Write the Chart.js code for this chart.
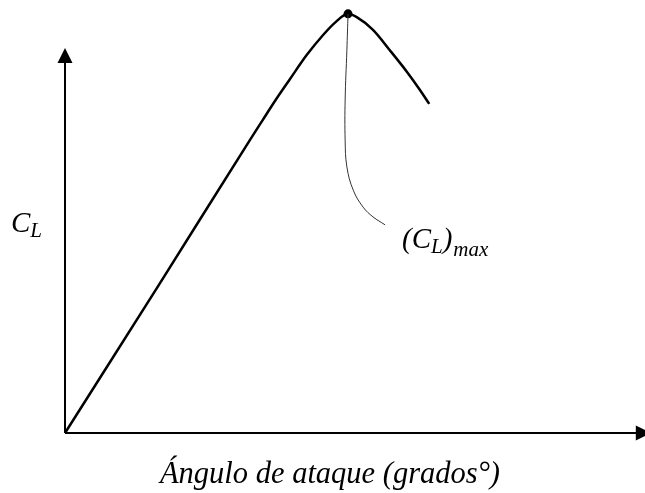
<!DOCTYPE html>
<html>
<head>
<meta charset="utf-8">
<script src="https://cdn.jsdelivr.net/npm/chart.js@4"></script>
<style>
  body { margin: 0; background: #fff; }
</style>
</head>
<body>
<canvas id="myChart" width="645" height="493"></canvas>
<script>
// curva de sustentacion (unidades arbitrarias 0-100)
const alpha = [0, 16, 31.9, 34.0, 36.2, 38.8, 41.7, 44.5, 46.7, 48.8, 50.3, 53.1, 56.0, 59.0, 61.2, 62.8];
const cl = [0, 34.6, 69.3, 73.8, 78.5, 83.7, 89.4, 94.1, 97.2, 99.1, 98.3, 95.3, 90.5, 85.3, 81.1, 77.8];

// linea guia hacia la etiqueta (CL)max
const guideX = [48.8, 48.6, 48.3, 48.3, 48.6, 49.7, 51.4, 53.1, 55.2];
const guideY = [99.1, 90.5, 78.7, 69.3, 62.9, 57.4, 53.4, 51.1, 49.2];

const peakIndex = 9;
const xAxisEnd = 101;
const yAxisEnd = 91;

const curve = alpha.map((a, i) => ({ x: a, y: cl[i] }));
const guide = guideX.map((g, i) => ({ x: g, y: guideY[i] }));

const serif = '"Liberation Serif", "Times New Roman", serif';

const axesPlugin = {
    id: 'axesPlugin',
    beforeDatasetsDraw(chart) {
        const ctx = chart.ctx;
        const xs = chart.scales.x;
        const ys = chart.scales.y;
        const ox = xs.getPixelForValue(0);
        const oy = ys.getPixelForValue(0);
        const xt = xs.getPixelForValue(xAxisEnd);
        const yt = ys.getPixelForValue(yAxisEnd);
        ctx.save();
        ctx.strokeStyle = '#000';
        ctx.fillStyle = '#000';
        ctx.lineWidth = 2;
        ctx.beginPath();
        ctx.moveTo(ox, oy);
        ctx.lineTo(ox, yt + 12);
        ctx.moveTo(ox, oy);
        ctx.lineTo(xt - 12, oy);
        ctx.stroke();
        // flechas
        ctx.beginPath();
        ctx.moveTo(ox, yt);
        ctx.lineTo(ox - 7.5, yt + 15);
        ctx.lineTo(ox + 7.5, yt + 15);
        ctx.closePath();
        ctx.fill();
        ctx.beginPath();
        ctx.moveTo(xt, oy);
        ctx.lineTo(xt - 15, oy - 7.5);
        ctx.lineTo(xt - 15, oy + 7.5);
        ctx.closePath();
        ctx.fill();
        ctx.restore();
    },
    afterDraw(chart) {
        const ctx = chart.ctx;
        ctx.save();
        ctx.fillStyle = '#000';
        ctx.textBaseline = 'alphabetic';
        // CL
        ctx.font = 'italic 29px ' + serif;
        ctx.fillText('C', 11, 232);
        let w = ctx.measureText('C').width;
        ctx.font = 'italic 21px ' + serif;
        ctx.fillText('L', 11 + w, 237);
        // (CL)max
        const lx = 402;
        ctx.font = 'italic 29px ' + serif;
        ctx.fillText('(C', lx, 248);
        w = ctx.measureText('(C').width;
        ctx.font = 'italic 21px ' + serif;
        ctx.fillText('L', lx + w, 253);
        w += ctx.measureText('L').width;
        ctx.font = 'italic 29px ' + serif;
        ctx.fillText(')', lx + w, 248);
        w += ctx.measureText(')').width;
        ctx.font = 'italic 21px ' + serif;
        ctx.fillText('max', lx + w + 1, 256);
        // titulo eje x
        ctx.font = 'italic 30.5px ' + serif;
        ctx.textAlign = 'center';
        ctx.fillText('Ángulo de ataque (grados°)', 330, 483);
        ctx.restore();
    }
};

const ctx = document.getElementById('myChart').getContext('2d');
const myChart = new Chart(ctx, {
    type: 'scatter',
    data: {
        datasets: [{
            data: guide,
            showLine: true,
            borderColor: '#333',
            borderWidth: 1,
            tension: 0.4,
            pointRadius: 0,
            clip: false
        }, {
            data: curve,
            showLine: true,
            borderColor: '#000',
            borderWidth: 2.5,
            cubicInterpolationMode: 'monotone',
            pointRadius: curve.map((p, i) => i === peakIndex ? 4.5 : 0),
            pointBackgroundColor: '#000',
            pointBorderWidth: 0,
            clip: false
        }]
    },
    options: {
        responsive: false,
        animation: false,
        layout: { padding: { left: 65, right: 0, top: 10, bottom: 60 } },
        plugins: { legend: { display: false }, tooltip: { enabled: false } },
        scales: {
            x: { type: 'linear', min: 0, max: 100, display: false },
            y: { type: 'linear', min: 0, max: 100, display: false }
        }
    },
    plugins: [axesPlugin]
});
</script>
</body>
</html>
